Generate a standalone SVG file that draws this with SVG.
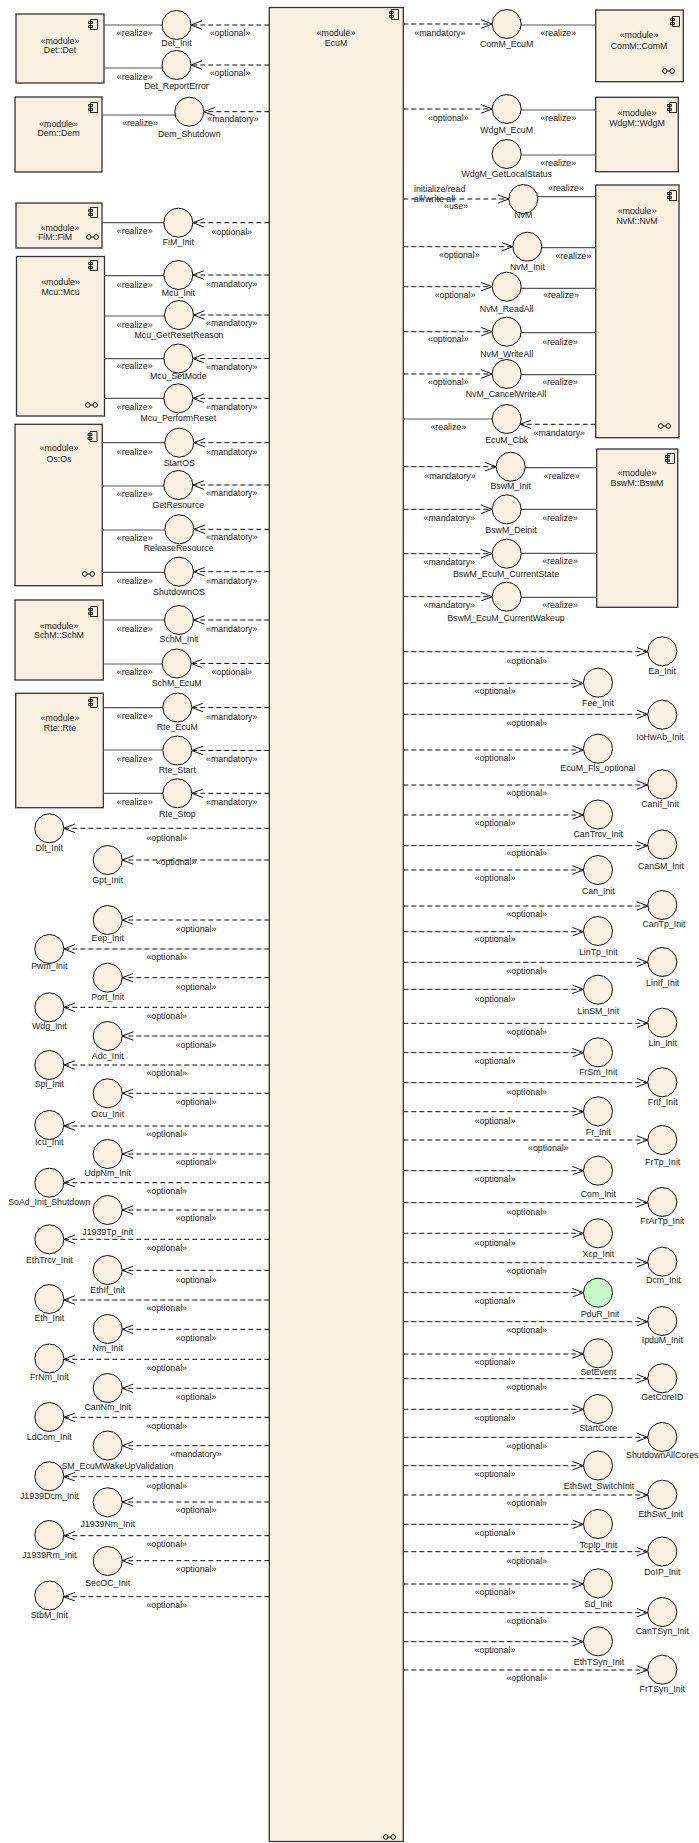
<svg xmlns="http://www.w3.org/2000/svg" width="699" height="1843" viewBox="0 0 699 1843">
<style>
text{font-family:"Liberation Sans",Arial,sans-serif;font-size:8.8px;fill:#222;text-anchor:middle}
.st{text-anchor:start}
.box{fill:#FAF0E1;stroke:#333;stroke-width:1.3}
.i{fill:#FAF0E1;stroke:#111;stroke-width:1}
.gr{fill:#C9F7C9}
.d{fill:none;stroke:#111;stroke-width:1;stroke-dasharray:5,3}
.r{fill:none;stroke:#555;stroke-width:1.2}
</style>
<defs>
<marker id="a" markerUnits="userSpaceOnUse" markerWidth="12" markerHeight="12" refX="11" refY="5" orient="auto" overflow="visible"><path d="M0,0.8 L11,5 L0,9.2" fill="none" stroke="#111" stroke-width="1"/></marker>
<g id="ci"><path d="M2.5,0.5h7v10h-7z M0.5,2.5h4v2h-4z M0.5,6.5h4v2h-4z" fill="#FAF0E1" stroke="#111" stroke-width="0.9"/></g>
<g id="lk" fill="none" stroke="#111" stroke-width="1"><circle cx="2.8" cy="0" r="2.3"/><circle cx="10.2" cy="0" r="2.3"/><path d="M5.1,0H7.9"/></g>
</defs>

<!-- central module -->
<g id="ecum"><rect class="box" x="269.3" y="7.5" width="134" height="1834"/><use href="#ci" x="389" y="9"/><text x="336" y="36.3">«module»</text><text x="336" y="46.3">EcuM</text><use href="#lk" x="383" y="1837"/></g>

<!-- modules on the left -->
<g id="det"><rect class="box" x="16" y="14" width="88" height="69"/><use href="#ci" x="88" y="19"/><text x="60" y="43.7">«module»</text><text x="60" y="53">Det::Det</text></g>
<g id="dem"><rect class="box" x="15" y="97" width="87" height="75"/><use href="#ci" x="88" y="102"/><text x="58.5" y="126.7">«module»</text><text x="58.5" y="136">Dem::Dem</text></g>
<g id="fim"><rect class="box" x="16" y="203" width="86" height="45"/><use href="#ci" x="88" y="207"/><text x="60" y="231.3">«module»</text><text x="55" y="240.3">FiM::FiM</text><use href="#lk" x="86" y="237"/></g>
<g id="mcu"><rect class="box" x="16.5" y="256.5" width="88" height="159.5"/><use href="#ci" x="88" y="260"/><text x="60.5" y="284.7">«module»</text><text x="60.5" y="294.7">Mcu::Mcu</text><use href="#lk" x="85" y="405"/></g>
<g id="os"><rect class="box" x="15" y="424.3" width="87.3" height="161.4"/><use href="#ci" x="87.5" y="431"/><text x="59" y="451.3">«module»</text><text x="59" y="462.3">Os:Os</text><use href="#lk" x="82" y="574"/></g>
<g id="schm"><rect class="box" x="15" y="600" width="88.3" height="80"/><use href="#ci" x="88" y="606"/><text x="59" y="629">«module»</text><text x="59" y="638">SchM::SchM</text></g>
<g id="rte"><rect class="box" x="15.7" y="693.3" width="87.6" height="114.4"/><use href="#ci" x="88" y="697"/><text x="60" y="721.3">«module»</text><text x="60" y="731.3">Rte::Rte</text></g>

<!-- modules on the right -->
<g id="comm"><rect class="box" x="595.7" y="10" width="87.6" height="71.7"/><use href="#ci" x="670" y="16"/><text x="639" y="38">«module»</text><text x="639" y="49">ComM::ComM</text><use href="#lk" x="662" y="71"/></g>
<g id="wdgm"><rect class="box" x="595.7" y="97.3" width="82.6" height="74.4"/><use href="#ci" x="667" y="102"/><text x="637" y="116.3">«module»</text><text x="637" y="126.3">WdgM::WdgM</text></g>
<g id="nvm"><rect class="box" x="595.7" y="185" width="83.3" height="252.7"/><use href="#ci" x="667" y="190"/><text x="637" y="213.7">«module»</text><text x="637" y="223.7">NvM::NvM</text><use href="#lk" x="658" y="426"/></g>
<g id="bswm"><rect class="box" x="596.7" y="449" width="81" height="158.3"/><use href="#ci" x="665" y="453"/><text x="637" y="476.3">«module»</text><text x="637" y="486.3">BswM::BswM</text></g>

<!-- connectors -->
<g id="connectors">
<!-- realize links, left modules -->
<path class="r" d="M104 25H162M104 68H162.4M102 115H175.2M102 222.7H164M104.5 275.7H164M104.5 316H164.7M104.5 358.7H164M104.5 398.3H164M102.3 442.7H165M102.3 486H164M102.3 530H165M102.3 572.3H164.7M103.3 620H164.7M103.3 664H162.4M103.3 707.7H163M103.3 750H163M103.3 793.3H163"/>
<!-- realize links, right modules -->
<path class="r" d="M521.2 25H595.7M521.2 110H595.7M521.2 155H595.7M537.8 196.7H595.7M541.8 247.7H595.7M521.2 288.3H595.7M521.2 332.7H595.7M521.2 374.7H595.7M403.3 419H492.2M525.2 467.7H596.7M521.2 509.3H596.7M521.2 553.3H596.7M521.2 597.3H596.7"/>
<!-- dependencies to module-owned interfaces, left -->
<g class="d" marker-end="url(#a)">
<path d="M269.3 25H191"/><path d="M269.3 65H191"/><path d="M269.3 111.7H203.8"/><path d="M269.3 222.7H192.8"/><path d="M269.3 275H192.8"/><path d="M269.3 315H193.5"/><path d="M269.3 358.5H192.8"/><path d="M269.3 398.3H192.8"/><path d="M269.3 442.7H193.8"/><path d="M269.3 485H192.8"/><path d="M269.3 529.3H193.8"/><path d="M269.3 571.7H193.5"/><path d="M269.3 620H193.5"/><path d="M269.3 663.5H191.2"/><path d="M269.3 707.5H191.8"/><path d="M269.3 750.5H191.8"/><path d="M269.3 793.3H191.8"/>
</g>
<!-- dependencies to module-owned interfaces, right -->
<g class="d" marker-end="url(#a)">
<path d="M403.3 24H492.2"/><path d="M403.3 109H492.2"/><path d="M403.3 199H508.8"/><path d="M403.3 246.7H512.8"/><path d="M403.3 286.7H492.2"/><path d="M403.3 331.7H492.2"/><path d="M403.3 374H492.2"/><path d="M595.7 424.3H520.2"/><path d="M403.3 466.7H496.2"/><path d="M403.3 509.3H492.2"/><path d="M403.3 553.7H492.2"/><path d="M403.3 596.7H492.2"/>
</g>
<!-- dependencies to standalone interfaces, left -->
<g class="d" marker-end="url(#a)">
<path d="M269.3 828.3H63.8"/><path d="M269.3 860H122.2"/><path d="M269.3 920H122.2"/><path d="M269.3 949H63.8"/><path d="M269.3 977.7H122.2"/><path d="M269.3 1007.3H63.8"/><path d="M269.3 1036H122.2"/><path d="M269.3 1065H63.8"/><path d="M269.3 1093.3H122.2"/><path d="M269.3 1126H63.8"/><path d="M269.3 1154H122.2"/><path d="M269.3 1182.7H63.8"/><path d="M269.3 1210H122.2"/><path d="M269.3 1239.3H63.8"/><path d="M269.3 1270.3H122.2"/><path d="M269.3 1300H63.8"/><path d="M269.3 1329.3H122.2"/><path d="M269.3 1359.3H63.8"/><path d="M269.3 1388.3H122.2"/><path d="M269.3 1417.3H63.8"/><path d="M269.3 1445.7H122.2"/><path d="M269.3 1476.7H63.8"/><path d="M269.3 1502H122.2"/><path d="M269.3 1535.7H63.8"/><path d="M269.3 1560.7H122.2"/><path d="M269.3 1596.7H63.8"/>
</g>
<!-- dependencies to standalone interfaces, right -->
<g class="d" marker-end="url(#a)">
<path d="M403.3 651.7H647.8"/><path d="M403.3 683.3H583.5"/><path d="M403.3 714.3H647.8"/><path d="M403.3 750H583.5"/><path d="M403.3 785H647.8"/><path d="M403.3 815H583.5"/><path d="M403.3 845.7H647.8"/><path d="M403.3 870H583.5"/><path d="M403.3 906H647.8"/><path d="M403.3 931.7H583.5"/><path d="M403.3 962.3H647.8"/><path d="M403.3 989.3H583.5"/><path d="M403.3 1023.3H647.8"/><path d="M403.3 1052.7H583.5"/><path d="M403.3 1082.7H647.8"/><path d="M403.3 1111.7H583.5"/><path d="M403.3 1140H647.8"/><path d="M403.3 1170.7H583.5"/><path d="M403.3 1202.7H647.8"/><path d="M403.3 1233.3H583.5"/><path d="M403.3 1262.7H647.8"/><path d="M403.3 1292.7H583.5"/><path d="M403.3 1321.7H647.8"/><path d="M403.3 1354H583.5"/><path d="M403.3 1378.7H647.8"/><path d="M403.3 1409.3H583.5"/><path d="M403.3 1437.3H647.8"/><path d="M403.3 1465.7H583.5"/><path d="M403.3 1495H647.8"/><path d="M403.3 1524.3H583.5"/><path d="M403.3 1551.7H647.8"/><path d="M403.3 1584H583.5"/><path d="M403.3 1612.7H647.8"/><path d="M403.3 1641.7H583.5"/><path d="M403.3 1670H647.8"/>
</g>
<!-- realize labels -->
<text x="134.7" y="36.3">«realize»</text><text x="134.7" y="80.3">«realize»</text><text x="140" y="125.7">«realize»</text><text x="134.7" y="234">«realize»</text><text x="134.7" y="288">«realize»</text><text x="134.7" y="328">«realize»</text><text x="134.7" y="369">«realize»</text><text x="134.7" y="409.7">«realize»</text><text x="134.7" y="454.7">«realize»</text><text x="134.7" y="497">«realize»</text><text x="134.7" y="541.3">«realize»</text><text x="134.7" y="583.7">«realize»</text><text x="134.7" y="632">«realize»</text><text x="134.7" y="675.3">«realize»</text><text x="134.7" y="719">«realize»</text><text x="134.7" y="762">«realize»</text><text x="134.7" y="804.7">«realize»</text>
<text x="558.3" y="36.3">«realize»</text><text x="558.3" y="121.3">«realize»</text><text x="558.3" y="166.3">«realize»</text><text x="566" y="191.3">«realize»</text><text x="573.3" y="259">«realize»</text><text x="561" y="298">«realize»</text><text x="560" y="344.7">«realize»</text><text x="560" y="385">«realize»</text><text x="448.3" y="430.3">«realize»</text><text x="561.7" y="478.7">«realize»</text><text x="560" y="520.7">«realize»</text><text x="560" y="564">«realize»</text><text x="560" y="608">«realize»</text>
<!-- dependency labels, left module interfaces -->
<text x="230" y="36.3">«optional»</text><text x="230" y="75.7">«optional»</text><text x="233" y="122.3">«mandatory»</text><text x="231.7" y="234.7">«optional»</text><text x="231.7" y="287">«mandatory»</text><text x="231.7" y="326.3">«mandatory»</text><text x="231.7" y="369.7">«mandatory»</text><text x="231.7" y="409.7">«mandatory»</text><text x="231.7" y="454.7">«mandatory»</text><text x="231.7" y="496.3">«mandatory»</text><text x="231.7" y="540.3">«mandatory»</text><text x="231.7" y="583.7">«mandatory»</text><text x="231.7" y="632">«mandatory»</text><text x="231.7" y="675.3">«optional»</text><text x="231.7" y="719.7">«mandatory»</text><text x="231.7" y="762.3">«mandatory»</text><text x="231.7" y="805">«mandatory»</text>
<!-- dependency labels, right module interfaces -->
<text x="440" y="36.3">«mandatory»</text><text x="448.3" y="121.3">«optional»</text><text class="st" x="414" y="191.5">initialize/read</text><text class="st" x="414" y="201.5">all/write all</text><text x="456" y="208.5">«use»</text><text x="459.3" y="258">«optional»</text><text x="455" y="298">«optional»</text><text x="448.3" y="342.3">«optional»</text><text x="448.3" y="385">«optional»</text><text x="559.3" y="435.7">«mandatory»</text><text x="450" y="478.7">«mandatory»</text><text x="449.3" y="520.7">«mandatory»</text><text x="449.3" y="565.3">«mandatory»</text><text x="449.3" y="608">«mandatory»</text>
<!-- dependency labels, left standalone interfaces -->
<text x="166.7" y="840.7">«optional»</text><text x="176" y="865.3">«optional»</text><text x="196" y="932">«optional»</text><text x="166.7" y="960.3">«optional»</text><text x="196" y="989.7">«optional»</text><text x="166.7" y="1019">«optional»</text><text x="196" y="1048">«optional»</text><text x="166.7" y="1076.3">«optional»</text><text x="196" y="1105.3">«optional»</text><text x="166.7" y="1137.3">«optional»</text><text x="196" y="1165.3">«optional»</text><text x="166.7" y="1194">«optional»</text><text x="196" y="1221.3">«optional»</text><text x="166.7" y="1250.7">«optional»</text><text x="196" y="1283">«optional»</text><text x="166.7" y="1311.3">«optional»</text><text x="196" y="1340.7">«optional»</text><text x="166.7" y="1371.3">«optional»</text><text x="196" y="1400.3">«optional»</text><text x="166.7" y="1428.7">«optional»</text><text x="196" y="1457">«mandatory»</text><text x="166.7" y="1489">«optional»</text><text x="196" y="1513">«optional»</text><text x="166.7" y="1547">«optional»</text><text x="196" y="1572.3">«optional»</text><text x="166.7" y="1608.3">«optional»</text>
<!-- dependency labels, right standalone interfaces -->
<text x="526.7" y="663.7">«optional»</text><text x="495" y="694">«optional»</text><text x="526.7" y="726.3">«optional»</text><text x="495" y="760.7">«optional»</text><text x="526.7" y="796.3">«optional»</text><text x="495" y="825.7">«optional»</text><text x="526.7" y="856.3">«optional»</text><text x="495" y="880.7">«optional»</text><text x="526.7" y="917.3">«optional»</text><text x="495" y="942.3">«optional»</text><text x="526.7" y="973.7">«optional»</text><text x="495" y="1002">«optional»</text><text x="526.7" y="1034.7">«optional»</text><text x="495" y="1063.7">«optional»</text><text x="526.7" y="1094.7">«optional»</text><text x="495" y="1123.7">«optional»</text><text x="548.3" y="1151.3">«optional»</text><text x="495" y="1182.3">«optional»</text><text x="526.7" y="1214.7">«optional»</text><text x="495" y="1245.7">«optional»</text><text x="526.7" y="1274">«optional»</text><text x="495" y="1303.7">«optional»</text><text x="526.7" y="1333">«optional»</text><text x="495" y="1365.3">«optional»</text><text x="526.7" y="1390.3">«optional»</text><text x="495" y="1421.3">«optional»</text><text x="526.7" y="1448.7">«optional»</text><text x="495" y="1477.3">«optional»</text><text x="526.7" y="1506.3">«optional»</text><text x="495" y="1536.3">«optional»</text><text x="526.7" y="1563.7">«optional»</text><text x="495" y="1595.3">«optional»</text><text x="526.7" y="1624">«optional»</text><text x="495" y="1653">«optional»</text><text x="526.7" y="1681.3">«optional»</text>
</g>

<!-- interfaces owned by left modules -->
<g id="det_init"><circle class="i" cx="176.5" cy="25" r="14.5"/><text x="176.5" y="46.3">Det_Init</text></g>
<g id="det_reporterror"><circle class="i" cx="176.5" cy="65" r="14.5"/><text x="176.5" y="88.7">Det_ReportError</text></g>
<g id="dem_shutdown"><circle class="i" cx="189.3" cy="111.7" r="14.5"/><text x="189.3" y="137">Dem_Shutdown</text></g>
<g id="fim_init"><circle class="i" cx="178.3" cy="222.7" r="14.5"/><text x="178.3" y="245.3">FiM_Init</text></g>
<g id="mcu_init"><circle class="i" cx="178.3" cy="275" r="14.5"/><text x="178.3" y="296.3">Mcu_Init</text></g>
<g id="mcu_getresetreason"><circle class="i" cx="179" cy="315" r="14.5"/><text x="179" y="338">Mcu_GetResetReason</text></g>
<g id="mcu_setmode"><circle class="i" cx="178.3" cy="358.5" r="14.5"/><text x="178.3" y="379">Mcu_SetMode</text></g>
<g id="mcu_performreset"><circle class="i" cx="178.3" cy="398.3" r="14.5"/><text x="178.3" y="421.3">Mcu_PerformReset</text></g>
<g id="startos"><circle class="i" cx="179.3" cy="442.7" r="14.5"/><text x="179.3" y="465.7">StartOS</text></g>
<g id="getresource"><circle class="i" cx="178.3" cy="485" r="14.5"/><text x="178.3" y="508">GetResource</text></g>
<g id="releaseresource"><circle class="i" cx="179.3" cy="529.3" r="14.5"/><text x="178.7" y="551.3">ReleaseResource</text></g>
<g id="shutdownos"><circle class="i" cx="179" cy="571.7" r="14.5"/><text x="179" y="595.3">ShutdownOS</text></g>
<g id="schm_init"><circle class="i" cx="179" cy="620" r="14.5"/><text x="179" y="642.3">SchM_Init</text></g>
<g id="schm_ecum"><circle class="i" cx="176.7" cy="663.5" r="14.5"/><text x="176.7" y="685.7">SchM_EcuM</text></g>
<g id="rte_ecum"><circle class="i" cx="177.3" cy="707.5" r="14.5"/><text x="177.3" y="729.7">Rte_EcuM</text></g>
<g id="rte_start"><circle class="i" cx="177.3" cy="750.5" r="14.5"/><text x="177.3" y="773">Rte_Start</text></g>
<g id="rte_stop"><circle class="i" cx="177.3" cy="793.3" r="14.5"/><text x="177.3" y="817">Rte_Stop</text></g>

<!-- interfaces owned by right modules -->
<g id="comm_ecum"><circle class="i" cx="506.7" cy="24" r="14.5"/><text x="506.7" y="47">ComM_EcuM</text></g>
<g id="wdgm_ecum"><circle class="i" cx="506.7" cy="109" r="14.5"/><text x="506.7" y="133">WdgM_EcuM</text></g>
<g id="wdgm_getlocalstatus"><circle class="i" cx="506.7" cy="154" r="14.5"/><text x="506.7" y="177">WdgM_GetLocalStatus</text></g>
<g id="nvm_if"><circle class="i" cx="523.3" cy="199" r="14.5"/><text x="523.3" y="218">NvM</text></g>
<g id="nvm_init"><circle class="i" cx="527.3" cy="246.7" r="14.5"/><text x="527.3" y="269.7">NvM_Init</text></g>
<g id="nvm_readall"><circle class="i" cx="506.7" cy="286.7" r="14.5"/><text x="506.7" y="312">NvM_ReadAll</text></g>
<g id="nvm_writeall"><circle class="i" cx="506.7" cy="331.7" r="14.5"/><text x="506.7" y="357">NvM_WriteAll</text></g>
<g id="nvm_cancelwriteall"><circle class="i" cx="506.7" cy="374" r="14.5"/><text x="506" y="397.3">NvM_CancelWriteAll</text></g>
<g id="ecum_cbk"><circle class="i" cx="506.7" cy="419" r="14.5"/><text x="506.7" y="443">EcuM_Cbk</text></g>
<g id="bswm_init"><circle class="i" cx="510.7" cy="466.7" r="14.5"/><text x="510.7" y="489">BswM_Init</text></g>
<g id="bswm_deinit"><circle class="i" cx="506.7" cy="509.3" r="14.5"/><text x="511" y="533">BswM_Deinit</text></g>
<g id="bswm_ecum_currentstate"><circle class="i" cx="506.7" cy="553.7" r="14.5"/><text x="506" y="577.3">BswM_EcuM_CurrentState</text></g>
<g id="bswm_ecum_currentwakeup"><circle class="i" cx="506.7" cy="596.7" r="14.5"/><text x="506" y="621.3">BswM_EcuM_CurrentWakeup</text></g>

<!-- standalone interfaces, left -->
<g id="dlt_init"><circle class="i" cx="49.3" cy="828.3" r="14.5"/><text x="49.3" y="851.3">Dlt_Init</text></g>
<g id="gpt_init"><circle class="i" cx="107.7" cy="860" r="14.5"/><text x="107.7" y="883">Gpt_Init</text></g>
<g id="eep_init"><circle class="i" cx="107.7" cy="920" r="14.5"/><text x="107.7" y="941.3">Eep_Init</text></g>
<g id="pwm_init"><circle class="i" cx="49.3" cy="949" r="14.5"/><text x="49.3" y="969">Pwm_Init</text></g>
<g id="port_init"><circle class="i" cx="107.7" cy="977.7" r="14.5"/><text x="107.7" y="1000.3">Port_Init</text></g>
<g id="wdg_init"><circle class="i" cx="49.3" cy="1007.3" r="14.5"/><text x="49.3" y="1028.7">Wdg_Init</text></g>
<g id="adc_init"><circle class="i" cx="107.7" cy="1036" r="14.5"/><text x="107.7" y="1059">Adc_Init</text></g>
<g id="spi_init"><circle class="i" cx="49.3" cy="1065" r="14.5"/><text x="49.3" y="1087.3">Spi_Init</text></g>
<g id="ocu_init"><circle class="i" cx="107.7" cy="1093.3" r="14.5"/><text x="107.7" y="1117.3">Ocu_Init</text></g>
<g id="icu_init"><circle class="i" cx="49.3" cy="1125" r="14.5"/><text x="49.3" y="1145.3">Icu_Init</text></g>
<g id="udpnm_init"><circle class="i" cx="107.7" cy="1154" r="14.5"/><text x="107.7" y="1176.3">UdpNm_Init</text></g>
<g id="soad_init_shutdown"><circle class="i" cx="49.3" cy="1182.7" r="14.5"/><text x="49.3" y="1204.7">SoAd_Init_Shutdown</text></g>
<g id="j1939tp_init"><circle class="i" cx="107.7" cy="1210" r="14.5"/><text x="107.7" y="1234.7">J1939Tp_Init</text></g>
<g id="ethtrcv_init"><circle class="i" cx="49.3" cy="1239.3" r="14.5"/><text x="49.3" y="1263">EthTrcv_Init</text></g>
<g id="ethif_init"><circle class="i" cx="107.7" cy="1270" r="14.5"/><text x="107.7" y="1293">EthIf_Init</text></g>
<g id="eth_init"><circle class="i" cx="49.3" cy="1299" r="14.5"/><text x="49.3" y="1321.3">Eth_Init</text></g>
<g id="nm_init"><circle class="i" cx="107.7" cy="1329" r="14.5"/><text x="107.7" y="1351.3">Nm_Init</text></g>
<g id="frnm_init"><circle class="i" cx="49.3" cy="1358.5" r="14.5"/><text x="49.3" y="1380.3">FrNm_Init</text></g>
<g id="cannm_init"><circle class="i" cx="107.7" cy="1388" r="14.5"/><text x="107.7" y="1410.3">CanNm_Init</text></g>
<g id="ldcom_init"><circle class="i" cx="49.3" cy="1417" r="14.5"/><text x="49.3" y="1440.3">LdCom_Init</text></g>
<g id="sm_ecumwakeupvalidation"><circle class="i" cx="107.7" cy="1445.5" r="14.5"/><text class="st" x="61.5" y="1469">SM_EcuMWakeUpValidation</text></g>
<g id="j1939dcm_init"><circle class="i" cx="49.3" cy="1476.3" r="14.5"/><text x="49.3" y="1499">J1939Dcm_Init</text></g>
<g id="j1939nm_init"><circle class="i" cx="107.7" cy="1502.3" r="14.5"/><text x="107.7" y="1527">J1939Nm_Init</text></g>
<g id="j1939rm_init"><circle class="i" cx="49.3" cy="1535" r="14.5"/><text x="49.3" y="1558">J1939Rm_Init</text></g>
<g id="secoc_init"><circle class="i" cx="107.7" cy="1561" r="14.5"/><text x="107.7" y="1586.3">SecOC_Init</text></g>
<g id="stbm_init"><circle class="i" cx="49.3" cy="1595.5" r="14.5"/><text x="49.3" y="1618.3">StbM_Init</text></g>

<!-- standalone interfaces, right -->
<g id="ea_init"><circle class="i" cx="662.3" cy="651.3" r="14.5"/><text x="662.3" y="674">Ea_Init</text></g>
<g id="fee_init"><circle class="i" cx="598" cy="682.7" r="14.5"/><text x="598" y="706.3">Fee_Init</text></g>
<g id="iohwab_init"><circle class="i" cx="662.3" cy="714.7" r="14.5"/><text x="660" y="739.7">IoHwAb_Init</text></g>
<g id="ecum_fls_optional"><circle class="i" cx="598" cy="748.7" r="14.5"/><text x="598" y="770.7">EcuM_Fls_optional</text></g>
<g id="canif_init"><circle class="i" cx="662.3" cy="784.3" r="14.5"/><text x="660" y="807">CanIf_Init</text></g>
<g id="cantrcv_init"><circle class="i" cx="598" cy="814.5" r="14.5"/><text x="598.3" y="837.3">CanTrcv_Init</text></g>
<g id="cansm_init"><circle class="i" cx="662.3" cy="844.5" r="14.5"/><text x="661" y="868.7">CanSM_Init</text></g>
<g id="can_init"><circle class="i" cx="598" cy="870" r="14.5"/><text x="598.3" y="894">Can_Init</text></g>
<g id="cantp_init"><circle class="i" cx="662.3" cy="905" r="14.5"/><text x="664" y="927">CanTp_Init</text></g>
<g id="lintp_init"><circle class="i" cx="598" cy="931" r="14.5"/><text x="598.3" y="954.7">LinTp_Init</text></g>
<g id="linif_init"><circle class="i" cx="662.3" cy="962" r="14.5"/><text x="662.7" y="986.3">LinIf_Init</text></g>
<g id="linsm_init"><circle class="i" cx="598" cy="989.7" r="14.5"/><text x="598.3" y="1014">LinSM_Init</text></g>
<g id="lin_init"><circle class="i" cx="662.3" cy="1022.7" r="14.5"/><text x="662.7" y="1046.3">Lin_Init</text></g>
<g id="frsm_init"><circle class="i" cx="598" cy="1052.3" r="14.5"/><text x="598.3" y="1075.3">FrSm_Init</text></g>
<g id="frif_init"><circle class="i" cx="662.3" cy="1082.3" r="14.5"/><text x="662.7" y="1105.3">FrIf_Init</text></g>
<g id="fr_init"><circle class="i" cx="598" cy="1111.3" r="14.5"/><text x="598.3" y="1135.3">Fr_Init</text></g>
<g id="frtp_init"><circle class="i" cx="662.3" cy="1140" r="14.5"/><text x="662.7" y="1164.7">FrTp_Init</text></g>
<g id="com_init"><circle class="i" cx="598" cy="1170.7" r="14.5"/><text x="598.3" y="1197">Com_Init</text></g>
<g id="frartp_init"><circle class="i" cx="662.3" cy="1202" r="14.5"/><text x="662.3" y="1223.7">FrArTp_Init</text></g>
<g id="xcp_init"><circle class="i" cx="598" cy="1233.3" r="14.5"/><text x="598.3" y="1257.3">Xcp_Init</text></g>
<g id="dcm_init"><circle class="i" cx="662.3" cy="1261.7" r="14.5"/><text x="663.3" y="1283">Dcm_Init</text></g>
<g id="pdur_init"><circle class="i gr" cx="598" cy="1292.7" r="14.5"/><text x="600" y="1317.3">PduR_Init</text></g>
<g id="ipdum_init"><circle class="i" cx="662.3" cy="1321" r="14.5"/><text x="662.3" y="1343">IpduM_Init</text></g>
<g id="setevent"><circle class="i" cx="598" cy="1353.3" r="14.5"/><text x="598.3" y="1375.3">SetEvent</text></g>
<g id="getcoreid"><circle class="i" cx="662.3" cy="1378.3" r="14.5"/><text x="662.3" y="1400.3">GetCoreID</text></g>
<g id="startcore"><circle class="i" cx="598" cy="1409" r="14.5"/><text x="598.3" y="1431.3">StartCore</text></g>
<g id="shutdownallcores"><circle class="i" cx="662.3" cy="1437" r="14.5"/><text x="662.3" y="1458">ShutdownAllCores</text></g>
<g id="ethswt_switchinit"><circle class="i" cx="598" cy="1465.5" r="14.5"/><text x="599" y="1489">EthSwt_SwitchInit</text></g>
<g id="ethswt_init"><circle class="i" cx="662.3" cy="1494.7" r="14.5"/><text x="660.7" y="1517">EthSwt_Init</text></g>
<g id="tcpip_init"><circle class="i" cx="598" cy="1524" r="14.5"/><text x="598.3" y="1548">TcpIp_Init</text></g>
<g id="doip_init"><circle class="i" cx="662.3" cy="1551.5" r="14.5"/><text x="662.3" y="1574.7">DoIP_Init</text></g>
<g id="sd_init"><circle class="i" cx="598" cy="1583.3" r="14.5"/><text x="598.3" y="1607">Sd_Init</text></g>
<g id="cantsyn_init"><circle class="i" cx="662.3" cy="1612" r="14.5"/><text x="662.3" y="1634">CanTSyn_Init</text></g>
<g id="ethtsyn_init"><circle class="i" cx="598" cy="1641.3" r="14.5"/><text x="599" y="1665.3">EthTSyn_Init</text></g>
<g id="frtsyn_init"><circle class="i" cx="662.3" cy="1669.7" r="14.5"/><text x="662.3" y="1692">FrTSyn_Init</text></g>
</svg>
